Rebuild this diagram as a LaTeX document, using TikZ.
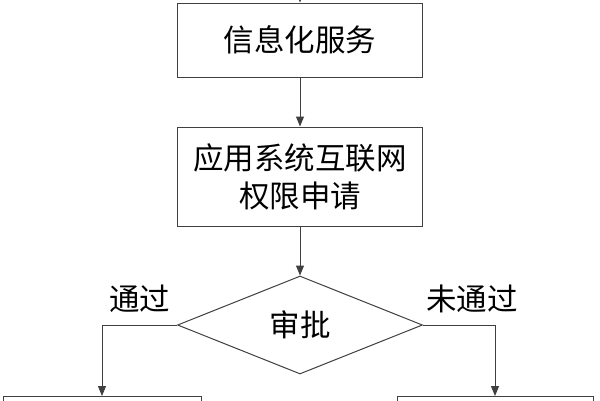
\documentclass[tikz,border=0pt]{standalone}
\usepackage{fontspec}
\newfontfamily\cjk{Noto Sans CJK SC}
\usetikzlibrary{shapes.geometric, arrows.meta, positioning}

\begin{document}
\begin{tikzpicture}[
  x=1pt, y=-1pt,
  font=\cjk\fontsize{30.5}{38}\selectfont,
  node distance=49pt,
  proc/.style={rectangle, draw=black!75, line width=1pt, fill=white,
               minimum width=245pt, align=center, inner sep=0pt},
  dec/.style={diamond, draw=black!75, line width=1pt, fill=white,
              minimum width=245pt, minimum height=98pt, inner sep=0pt},
  arr/.style={-{Triangle[length=10pt, width=8pt]}, draw=black!75, line width=1pt},
  lbl/.style={inner sep=0pt},
]
\useasboundingbox (0,0) rectangle (600,400);
\clip (0,0) rectangle (600,400);
\fill[white] (0,0) rectangle (600,400);
\node (info)  [proc, minimum height=74pt] at (300,40) {信息化服务};
\node (apply) [proc, minimum height=99pt, below=of info]
  {应用系统互联网\\权限申请};
\node (check) [dec, below=of apply] {审批};
% outcome boxes, cut off by the lower edge
\node (pass) [proc, minimum width=198pt, minimum height=60pt, anchor=north] at (102,396) {};
\node (fail) [proc, minimum width=196pt, minimum height=60pt, anchor=north] at (495,396) {};
% edges
\coordinate (top) at (300,-10);
\draw [arr] (top) -- (info);
\draw [arr] (info)  -- (apply);
\draw [arr] (apply) -- (check);
\draw [arr] (check.west) -| node[lbl, pos=0.25, above=12pt]{通过} (pass.north);
\draw [arr] (check.east) -| node[lbl, pos=0.34, above=12pt]{未通过} (fail.north);
\end{tikzpicture}
\end{document}
